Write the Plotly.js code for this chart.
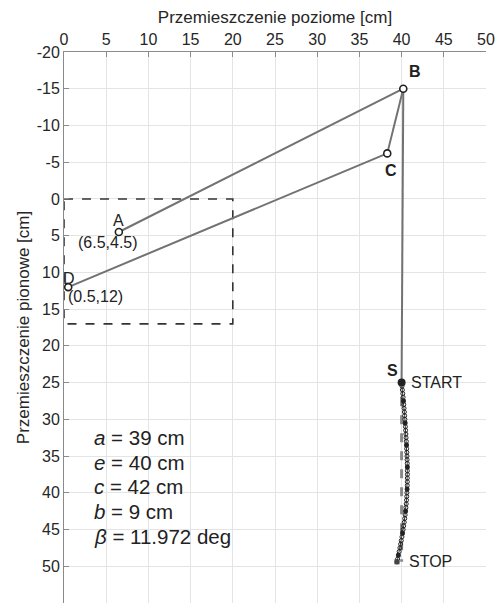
<!DOCTYPE html>
<html>
<head>
<meta charset="utf-8">
<script src="https://cdn.plot.ly/plotly-3.0.1.min.js"></script>
<style>html,body{margin:0;padding:0;background:#fff;}#chart{width:500px;height:608px;}</style>
</head>
<body>
<div id="chart"></div>
<script>
// Mechanism points
const ptNames = ["A", "B", "C", "D"];
const ptX = [6.5, 40.2, 38.3, 0.5];
const ptY = [4.5, -15, -6.2, 12];
const startX = 40.0, startY = 25.0;

// Links
const linkABx = [6.5, 40.2];
const linkABy = [4.5, -15];
const linkDCx = [0.5, 38.3];
const linkDCy = [12, -6.2];
const linkCBx = [38.3, 40.2];
const linkCBy = [-6.2, -15];
const linkBSx = [40.2, 40.0];
const linkBSy = [-15, 25];

// Dashed work area rectangle
const rectX = [0, 20, 20, 0, 0];
const rectY = [0, 0, 17, 17, 0];

// Trajectory of S
const trajY = [25.0,25.5,26.0,26.5,27.0,27.5,28.0,28.5,29.0,29.5,30.0,30.5,31.0,31.5,32.0,32.5,33.0,33.5,34.0,34.5,35.0,35.5,36.0,36.5,37.0,37.5,38.0,38.5,39.0,39.5,40.0,40.5,41.0,41.5,42.0,42.5,43.0,43.5,44.0,44.5,45.0,45.5,46.0,46.5,47.0,47.5,48.0,48.5,49.0,49.4];
const trajX = [40.00,40.05,40.09,40.14,40.18,40.22,40.26,40.29,40.33,40.36,40.39,40.42,40.45,40.48,40.51,40.53,40.56,40.58,40.60,40.62,40.64,40.65,40.67,40.68,40.68,40.69,40.68,40.68,40.67,40.65,40.63,40.61,40.58,40.55,40.51,40.47,40.42,40.37,40.31,40.25,40.18,40.11,40.04,39.96,39.88,39.80,39.71,39.62,39.53,39.45];
const keyIdx = [5, 11, 17, 23, 29, 35, 41, 47];

// Straight reference line
const refX = [40.0, 40.0];
const refY = [27, 49.4];

// Parameter text
const paramLines = ["<i>a</i> = 39 cm", "<i>e</i> = 40 cm", "<i>c</i> = 42 cm", "<i>b</i> = 9 cm", "<i>β</i> = 11.972 deg"];
const paramY = [32.5, 35.9, 39.2, 42.6, 46.0];

const xTicks = [0,5,10,15,20,25,30,35,40,45,50];
const yTicks = [-20,-15,-10,-5,0,5,10,15,20,25,30,35,40,45,50,55];

const linkStyle = {color: "#727272", width: 2};
const traces = [
  {x: rectX, y: rectY, mode: "lines", line: {color: "#333", width: 1.6, dash: "dash"}},
  {x: linkABx, y: linkABy, mode: "lines", line: linkStyle},
  {x: linkDCx, y: linkDCy, mode: "lines", line: linkStyle},
  {x: linkCBx, y: linkCBy, mode: "lines", line: linkStyle},
  {x: linkBSx, y: linkBSy, mode: "lines", line: linkStyle},
  {x: refX, y: refY, mode: "lines", line: {color: "#8a8a8a", width: 3, dash: "dash"}},
  {x: trajX, y: trajY, mode: "lines+markers", line: {color: "#333", width: 1},
   marker: {symbol: "circle-open", size: 4, color: "#222", line: {width: 1}}},
  {x: keyIdx.map(i => trajX[i]), y: keyIdx.map(i => trajY[i]), mode: "markers",
   marker: {symbol: "square", size: 4, color: "#222"}},
  {x: [trajX[trajX.length-1]], y: [trajY[trajY.length-1]], mode: "markers",
   marker: {symbol: "square", size: 5, color: "#444"}},
  {x: ptX, y: ptY, mode: "markers",
   marker: {symbol: "circle", size: 7, color: "#fff", line: {color: "#222", width: 1.6}}},
  {x: [startX], y: [startY], mode: "markers", marker: {symbol: "circle", size: 8, color: "#222"}}
];

const font = "Liberation Sans, Arial, sans-serif";
const ann = [];
function addText(x, y, text, opts) {
  ann.push(Object.assign({x: x, y: y, text: text, showarrow: false, xref: "x", yref: "y",
    font: {family: font, size: 16, color: "#222"}}, opts || {}));
}
addText(41.6, -17.3, "<b>B</b>");
addText(38.7, -3.9, "<b>C</b>");
addText(6.4, 3.0, "A");
addText(5.2, 5.9, "(6.5,4.5)");
addText(0.6, 10.8, "D");
addText(3.7, 13.3, "(0.5,12)");
addText(38.9, 23.3, "<b>S</b>");
addText(40.9, 25.0, "START", {xanchor: "left"});
addText(40.6, 49.4, "STOP", {xanchor: "left"});
paramLines.forEach((t, i) => addText(3.3, paramY[i], t, {xanchor: "left", font: {family: font, size: 20.5, color: "#222"}}));

const layout = {
  width: 500, height: 608,
  margin: {l: 64, r: 14, t: 52, b: 5},
  paper_bgcolor: "#fff", plot_bgcolor: "#fff",
  showlegend: false,
  font: {family: font, size: 16, color: "#262626"},
  xaxis: {
    side: "top", range: [0, 50], tickvals: xTicks, ticktext: xTicks.map(String),
    showgrid: true, gridcolor: "#e4e4e4", gridwidth: 1,
    showline: true, linecolor: "#8a8a8a", linewidth: 1,
    ticks: "inside", ticklen: 5, tickcolor: "#8a8a8a",
    zeroline: false, tickfont: {size: 16},
    title: {text: "Przemieszczenie poziome [cm]", font: {size: 17}, standoff: 2}
  },
  yaxis: {
    range: [55, -20], tickvals: yTicks, ticktext: yTicks.map(String),
    showgrid: true, gridcolor: "#e4e4e4", gridwidth: 1,
    showline: true, linecolor: "#8a8a8a", linewidth: 1,
    ticks: "inside", ticklen: 5, tickcolor: "#8a8a8a",
    zeroline: false, tickfont: {size: 16},
    title: {text: "Przemieszczenie pionowe [cm]", font: {size: 17}, standoff: 2}
  },
  annotations: ann
};

Plotly.newPlot("chart", traces, layout, {staticPlot: true, displayModeBar: false});
</script>
</body>
</html>
